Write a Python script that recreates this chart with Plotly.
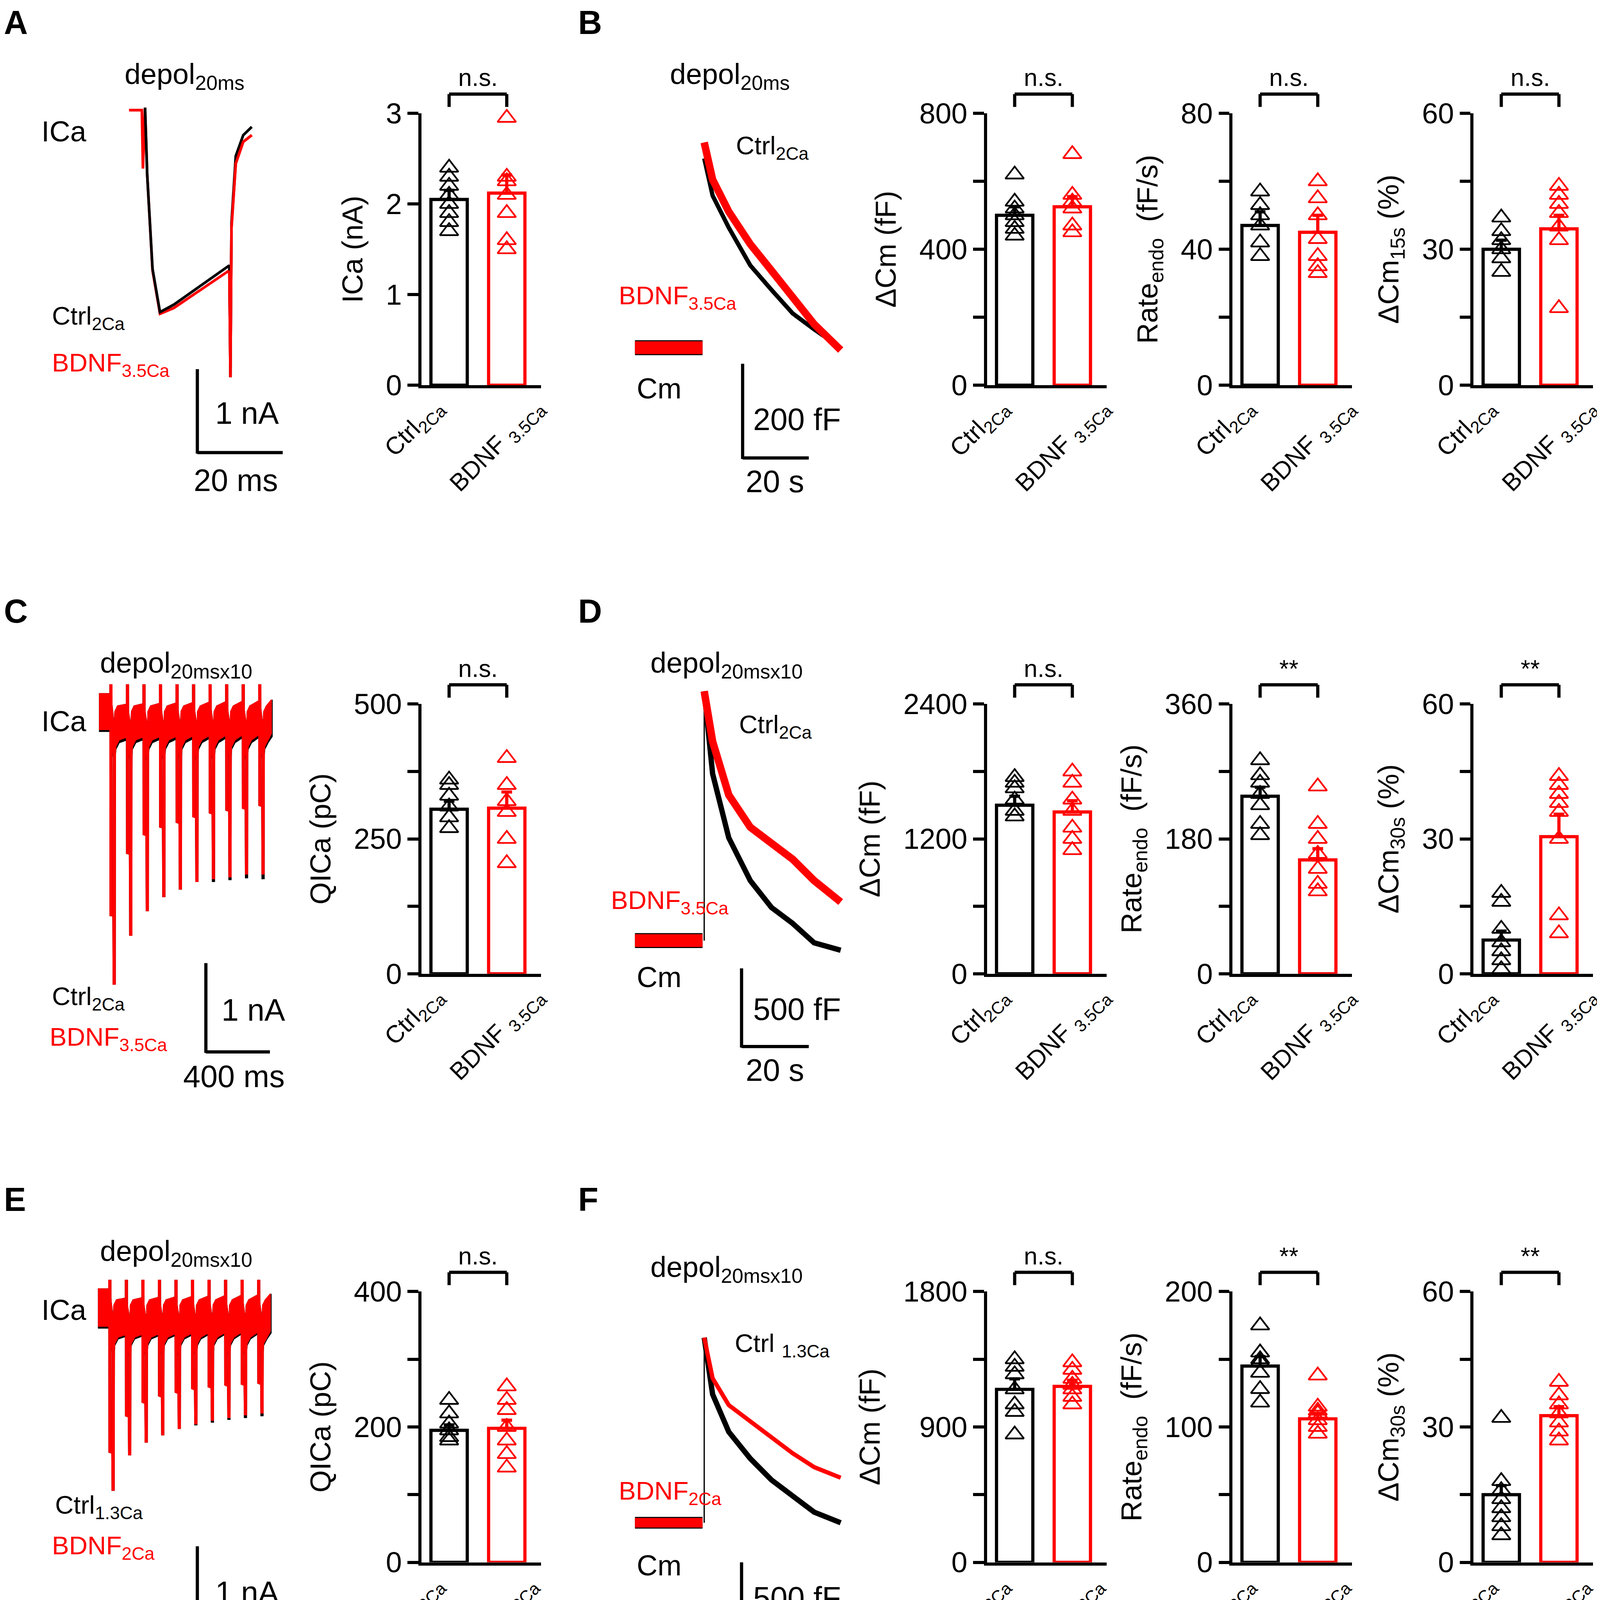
import plotly.graph_objects as go

W, H = 4125, 4282
DW, DH = 1510, 1563
S = W / DW
BLACK = '#000000'
RED = '#ff0000'
FONT = 'Liberation Sans, Arial, sans-serif'

def px(x): return x / DW
def py(y): return 1 - y / DH
def fs(d): return d * S

# ---------------- data: bar panels ----------------
cats_2 = ["Ctrl<sub>2Ca</sub>", "BDNF <sub>3.5Ca</sub>"]
cats_3 = ["Ctrl<sub>1.3Ca</sub>", "BDNF <sub>2Ca</sub>"]

# row 1 (A, B)
A_ica_ctrl = [2.4, 2.3, 2.2, 2.1, 2.0, 1.9, 1.8, 1.7]
A_ica_bdnf = [2.95, 2.3, 2.25, 2.1, 1.9, 1.6, 1.5]
A_ica_mean = [2.05, 2.12]; A_ica_sem = [0.1, 0.2]
B_dcm_ctrl = [620, 540, 520, 500, 480, 460, 440]
B_dcm_bdnf = [680, 560, 540, 520, 470, 450]
B_dcm_mean = [500, 525]; B_dcm_sem = [25, 30]
B_rate_ctrl = [57, 53, 50, 47, 42, 38]
B_rate_bdnf = [60, 55, 50, 43, 38, 35, 33]
B_rate_mean = [47, 45]; B_rate_sem = [4, 5]
B_pct_ctrl = [37, 34, 32, 30, 28, 25]
B_pct_bdnf = [44, 42, 40, 38, 35, 32, 17]
B_pct_mean = [30, 34.5]; B_pct_sem = [2, 3]

# row 2 (C, D)
C_q_ctrl = [360, 350, 330, 310, 290, 270]
C_q_bdnf = [400, 350, 320, 300, 250, 205]
C_q_mean = [305, 307]; C_q_sem = [15, 30]
D_dcm_ctrl = [1750, 1700, 1650, 1550, 1450, 1400]
D_dcm_bdnf = [1800, 1700, 1550, 1450, 1300, 1200, 1100]
D_dcm_mean = [1500, 1440]; D_dcm_sem = [80, 100]
D_rate_ctrl = [285, 265, 255, 240, 225, 200, 185]
D_rate_bdnf = [250, 200, 180, 160, 140, 120, 110]
D_rate_mean = [237, 152]; D_rate_sem = [12, 15]
D_pct_ctrl = [18, 16, 10, 7, 5, 3, 1]
D_pct_bdnf = [44, 42, 40, 38, 36, 30, 13, 9]
D_pct_mean = [7.5, 30.5]; D_pct_sem = [2, 5]

# row 3 (E, F)
E_q_ctrl = [240, 220, 205, 195, 185, 180]
E_q_bdnf = [260, 240, 225, 200, 180, 160, 140]
E_q_mean = [195, 198]; E_q_sem = [8, 12]
F_dcm_ctrl = [1350, 1300, 1250, 1150, 1050, 1000, 850]
F_dcm_bdnf = [1330, 1280, 1220, 1180, 1150, 1100, 1050]
F_dcm_mean = [1150, 1170]; F_dcm_sem = [70, 40]
F_rate_ctrl = [175, 155, 150, 148, 140, 128, 118]
F_rate_bdnf = [138, 115, 112, 110, 105, 100, 95]
F_rate_mean = [145, 106]; F_rate_sem = [7, 4]
F_pct_ctrl = [32, 18, 16, 14, 12, 10, 8, 6]
F_pct_bdnf = [40, 37, 35, 33, 31, 29, 27]
F_pct_mean = [15, 32.5]; F_pct_sem = [2, 2]

# ---------------- data: traces ----------------
A_t_red = [0, 3, 3.25, 3.75, 4.25, 5.5, 7.25, 10.5, 23.5, 23.75, 24, 25, 26.75, 28.75]
A_i_red = [0, 0, -0.7, 0.03, -0.77, -1.92, -2.44, -2.37, -1.92, -3.2, -1.41, -0.64, -0.38, -0.30]
A_t_blk = [3.75, 4.25, 5.5, 7.25, 10.5, 23.5, 23.75, 24, 25, 26.75, 28.75]
A_i_blk = [0.03, -0.77, -1.9, -2.42, -2.33, -1.86, -3.2, -1.35, -0.55, -0.3, -0.2]

pulse_t0 = [0, 100, 200, 300, 400, 500, 600, 700, 800, 900]
C_deep = [-2.25, -1.59, -1.39, -1.31, -1.26, -1.20, -1.16, -1.13, -1.11, -1.08]
C_tail_red = [-2.98, -2.46, -2.20, -2.05, -1.97, -1.89, -1.86, -1.84, -1.81, -1.81]
C_tail_blk = [-2.98, -2.46, -2.20, -2.05, -1.97, -1.89, -1.89, -1.87, -1.85, -1.86]
E_deep = [-1.70, -1.30, -1.15, -1.08, -1.04, -1.00, -0.98, -0.96, -0.95, -0.94]
E_tail_red = [-2.12, -1.73, -1.59, -1.51, -1.44, -1.39, -1.35, -1.32, -1.29, -1.27]
E_tail_blk = [-2.12, -1.73, -1.59, -1.51, -1.44, -1.40, -1.37, -1.34, -1.32, -1.30]

cm_t = [0, 2.5, 7.3, 13.7, 20, 26.3, 32.7, 40.6]
B_cm_blk = [402, 323, 255, 175, 123, 73, 39, 0]
B_cm_red = [436, 357, 289, 220, 164, 107, 50, -5]
D_cm_blk = [1596, 1068, 658, 384, 212, 110, -14, -62]
D_cm_red = [1596, 1274, 932, 726, 623, 521, 384, 247]
F_cm_blk = [1185, 822, 582, 411, 274, 171, 68, 0]
F_cm_red = [1185, 925, 753, 651, 548, 445, 356, 288]
cm_base_t = [-20.6, -0.5]

fig = go.Figure()
layout = dict(width=W, height=H, margin=dict(l=0, r=0, t=0, b=0, pad=0, autoexpand=False),
              autosize=False, paper_bgcolor='white', plot_bgcolor='rgba(0,0,0,0)',
              showlegend=False, font=dict(family=FONT, color=BLACK))
shapes = []
annots = []
axn = [0]

def new_axes(xdom, ydom, xrange, yrange):
    axn[0] += 1
    k = axn[0]
    xs = 'xaxis' if k == 1 else f'xaxis{k}'
    ys = 'yaxis' if k == 1 else f'yaxis{k}'
    layout[xs] = dict(domain=xdom, range=xrange, visible=False, automargin=False,
                      anchor=f'y{k if k>1 else ""}')
    layout[ys] = dict(domain=ydom, range=yrange, visible=False, automargin=False,
                      anchor=f'x{k if k>1 else ""}')
    return k, xs, ys

def ref(k):
    return ('x' if k == 1 else f'x{k}'), ('y' if k == 1 else f'y{k}')

def text(x, y, s, size=27, color=BLACK, xanchor='left', yanchor='middle', bold=False, angle=0):
    if bold:
        s = f'<b>{s}</b>'
    annots.append(dict(x=px(x), y=py(y), xref='paper', yref='paper', text=s, showarrow=False,
                       xanchor=xanchor, yanchor=yanchor, textangle=angle,
                       font=dict(size=fs(size), color=color, family=FONT)))

def line(x0, y0, x1, y1, w=3):
    shapes.append(dict(type='line', xref='paper', yref='paper', x0=px(x0), y0=py(y0),
                       x1=px(x1), y1=py(y1), line=dict(color=BLACK, width=w * S)))

ROW_TOP = [103, 655, 1204]
ROW_BOT = [357, 907, 1457]
LBL_OFF = [42, 42, 36]

def bar_panel(row, ax_x, ymax, dtick, minor, title, cats, mean, sem, pc, pb, sig):
    r0, r1 = -0.48, 1.593
    dom_w = 112
    k, xs, ys = new_axes([px(ax_x), px(ax_x + dom_w)], [py(ROW_BOT[row]), py(ROW_TOP[row])],
                         [r0, r1], [0, ymax])
    layout[xs].update(visible=True, showline=True, linecolor=BLACK, linewidth=3 * S,
                      ticks='', showticklabels=False, showgrid=False, zeroline=False)
    yd = dict(visible=True, showline=True, linecolor=BLACK, linewidth=3 * S, ticks='outside',
              ticklen=10 * S, tickwidth=3 * S, tickcolor=BLACK, tickmode='linear', tick0=0,
              dtick=dtick, tickfont=dict(size=fs(27), family=FONT), showgrid=False,
              zeroline=False, title=dict(text=title, font=dict(size=fs(27), family=FONT),
                                         standoff=14 * S))
    if minor:
        yd['minor'] = dict(dtick=minor, tick0=0, ticks='outside', ticklen=10 * S,
                           tickwidth=3 * S, tickcolor=BLACK, showgrid=False)
    layout[ys].update(yd)
    xr, yr = ref(k)
    for i, (col, pts) in enumerate([(BLACK, pc), (RED, pb)]):
        fig.add_trace(go.Bar(x=[i], y=[mean[i]], width=0.63, xaxis=xr, yaxis=yr,
                             marker=dict(color='white', line=dict(color=col, width=3 * S)),
                             error_y=dict(type='data', array=[sem[i]], arrayminus=[0],
                                          symmetric=False, color=col, thickness=3 * S,
                                          width=5 * S)))
        fig.add_trace(go.Scatter(x=[i] * len(pts), y=pts, mode='markers', xaxis=xr, yaxis=yr,
                                 cliponaxis=False,
                                 marker=dict(symbol='triangle-up-open', size=15 * S,
                                             color=col, line=dict(color=col, width=1.6 * S))))
    c0 = ax_x + (0 - r0) / (r1 - r0) * dom_w
    c1 = ax_x + (1 - r0) / (r1 - r0) * dom_w
    yb = ROW_TOP[row] - 18
    line(c0, yb + 12, c0, yb)
    line(c0, yb, c1, yb)
    line(c1, yb, c1, yb + 12)
    text((c0 + c1) / 2, yb - 2, sig, size=23, xanchor='center', yanchor='bottom')
    text(c0 + 2, ROW_BOT[row] + 6, cats[0], size=23, xanchor='right', yanchor='top', angle=-45)
    text(c1 + LBL_OFF[row], ROW_BOT[row] + 6, cats[1], size=23, xanchor='right', yanchor='top', angle=-45)

AX = [392, 922, 1152, 1378]
T_Q = 'QICa (pC)'
T_CM = 'ΔCm (fF)'
T_RATE = 'Rate<sub>endo</sub>  (fF/s)'
bar_panel(0, AX[0], 3, 1, None, 'ICa (nA)', cats_2, A_ica_mean, A_ica_sem, A_ica_ctrl, A_ica_bdnf, 'n.s.')
bar_panel(0, AX[1], 800, 400, 200, T_CM, cats_2, B_dcm_mean, B_dcm_sem, B_dcm_ctrl, B_dcm_bdnf, 'n.s.')
bar_panel(0, AX[2], 80, 40, 20, T_RATE, cats_2, B_rate_mean, B_rate_sem, B_rate_ctrl, B_rate_bdnf, 'n.s.')
bar_panel(0, AX[3], 60, 30, 15, 'ΔCm<sub>15s</sub> (%)', cats_2, B_pct_mean, B_pct_sem, B_pct_ctrl, B_pct_bdnf, 'n.s.')
bar_panel(1, AX[0], 500, 250, 125, T_Q, cats_2, C_q_mean, C_q_sem, C_q_ctrl, C_q_bdnf, 'n.s.')
bar_panel(1, AX[1], 2400, 1200, 600, T_CM, cats_2, D_dcm_mean, D_dcm_sem, D_dcm_ctrl, D_dcm_bdnf, 'n.s.')
bar_panel(1, AX[2], 360, 180, 90, T_RATE, cats_2, D_rate_mean, D_rate_sem, D_rate_ctrl, D_rate_bdnf, '**')
bar_panel(1, AX[3], 60, 30, 15, 'ΔCm<sub>30s</sub> (%)', cats_2, D_pct_mean, D_pct_sem, D_pct_ctrl, D_pct_bdnf, '**')
bar_panel(2, AX[0], 400, 200, 100, T_Q, cats_3, E_q_mean, E_q_sem, E_q_ctrl, E_q_bdnf, 'n.s.')
bar_panel(2, AX[1], 1800, 900, 450, T_CM, cats_3, F_dcm_mean, F_dcm_sem, F_dcm_ctrl, F_dcm_bdnf, 'n.s.')
bar_panel(2, AX[2], 200, 100, 50, T_RATE, cats_3, F_rate_mean, F_rate_sem, F_rate_ctrl, F_rate_bdnf, '**')
bar_panel(2, AX[3], 60, 30, 15, 'ΔCm<sub>30s</sub> (%)', cats_3, F_pct_mean, F_pct_sem, F_pct_ctrl, F_pct_bdnf, '**')

def trace_axes(xpx, ypx, x_of, y_of):
    (ox, sx), (oy, sy) = x_of, y_of
    xr = [(xpx[0] - ox) / sx, (xpx[1] - ox) / sx]
    yr = [(oy - ypx[1]) / sy, (oy - ypx[0]) / sy]
    k, xs, ys = new_axes([px(xpx[0]), px(xpx[1])], [py(ypx[1]), py(ypx[0])], xr, yr)
    return ref(k)

def add_line(xr, yr, xs, ys, col, w):
    fig.add_trace(go.Scatter(x=xs, y=ys, mode='lines', xaxis=xr, yaxis=yr, cliponaxis=False,
                             line=dict(color=col, width=w * S)))

xr, yr = trace_axes((100, 260), (90, 360), (118, 4.0), (100, 78))
add_line(xr, yr, A_t_red, A_i_red, RED, 2.5)
add_line(xr, yr, A_t_blk, A_i_blk, BLACK, 2.5)
add_line(xr, yr, A_t_red[8:], A_i_red[8:], RED, 2.5)

def train(xr, yr, deep, tail, col, top0, low0, top, low, spike, tend, w):
    ux = [-72, pulse_t0[0] - 0.5]; uy = [top0, top0]
    lx = [-72, pulse_t0[0] - 0.5]; ly = [low0, low0]
    for i, t0 in enumerate(pulse_t0):
        nxt = pulse_t0[i + 1] - 0.5 if i + 1 < len(pulse_t0) else tend
        ux += [t0 + 21, t0 + 24, t0 + 40, nxt]; uy += [top - 0.25, top - 0.08, top - 0.02, top + 0.005 * i]
        lx += [t0 + 21, t0 + 30, t0 + 50, nxt]; ly += [low - 0.3, low - 0.1, low - 0.03, low + 0.004 * i]
    fig.add_trace(go.Scatter(x=ux + lx[::-1], y=uy + ly[::-1], mode='lines', fill='toself',
                             fillcolor=col, xaxis=xr, yaxis=yr, cliponaxis=False,
                             line=dict(color=col, width=1 * S)))
    px_, py_ = [], []
    for i, t0 in enumerate(pulse_t0):
        px_ += [t0, t0 + 1, t0 + 18, t0 + 20, t0 + 21, t0 + 22, None]
        py_ += [spike, deep[i], deep[i] * 0.97, tail[i], low - 0.3, top - 0.25, None]
    fig.add_trace(go.Scatter(x=px_, y=py_, mode='lines', xaxis=xr, yaxis=yr, cliponaxis=False,
                             line=dict(color=col, width=w * S)))

xr, yr = trace_axes((85, 260), (630, 930), (101, 0.155), (655, 88))
train(xr, yr, C_deep, C_tail_blk, BLACK, 0.11, -0.29, 0.0, -0.38, 0.21, 975, 3)
train(xr, yr, C_deep, C_tail_red, RED, 0.11, -0.27, 0.0, -0.35, 0.21, 970, 3)
xr, yr = trace_axes((85, 260), (1185, 1480), (100, 0.155), (1210, 85))
train(xr, yr, E_deep, E_tail_blk, BLACK, 0.1, -0.33, 0.0, -0.42, 0.2, 975, 3)
train(xr, yr, E_deep, E_tail_red, RED, 0.1, -0.31, 0.0, -0.40, 0.2, 970, 3)

def cm_panel(ypx, oy, sy, blk, red, connect, wr, wb, wbase):
    xr, yr = trace_axes((585, 790), ypx, (657, 3.15), (oy, sy))
    add_line(xr, yr, cm_base_t, [0, 0], BLACK, wbase + 2)
    add_line(xr, yr, cm_base_t, [0, 0], RED, wbase)
    if connect:
        add_line(xr, yr, [0, 0.01], [0, blk[0]], BLACK, 1.2)
    add_line(xr, yr, cm_t, blk, BLACK, wb)
    add_line(xr, yr, cm_t, red, RED, wr)

cm_panel((110, 340), 322, 0.44, B_cm_blk, B_cm_red, False, 7, 4, 12)
cm_panel((630, 900), 876, 0.146, D_cm_blk, D_cm_red, True, 7, 5, 12)
cm_panel((1230, 1440), 1420, 0.146, F_cm_blk, F_cm_red, True, 4, 5, 9)

for (lx, ly, L) in [(0, 18, 'A'), (538, 18, 'B'), (0, 568, 'C'), (538, 568, 'D'), (0, 1118, 'E'), (538, 1118, 'F')]:
    text(lx, ly, L, size=31, bold=True)

text(113, 68, 'depol<sub>20ms</sub>')
text(35, 120, 'ICa')
text(45, 294, 'Ctrl<sub>2Ca</sub>', size=24)
text(45, 338, 'BDNF<sub>3.5Ca</sub>', size=24, color=RED)
line(182, 342, 182, 421); line(182, 420, 262, 420)
text(198, 383, '1 nA', size=29); text(178, 446, '20 ms', size=29)
text(624, 68, 'depol<sub>20ms</sub>')
text(686, 135, 'Ctrl<sub>2Ca</sub>', size=24)
text(576, 275, 'BDNF<sub>3.5Ca</sub>', size=24, color=RED)
text(593, 360, 'Cm')
line(693, 337, 693, 426); line(693, 425, 755, 425)
text(702, 389, '200 fF', size=29); text(695, 447, '20 s', size=29)
text(90, 618, 'depol<sub>20msx10</sub>')
text(35, 671, 'ICa')
text(45, 930, 'Ctrl<sub>2Ca</sub>', size=24)
text(43, 968, 'BDNF<sub>3.5Ca</sub>', size=24, color=RED)
line(190, 897, 190, 981); line(190, 980, 250, 980)
text(204, 941, '1 nA', size=29); text(168, 1003, '400 ms', size=29)
text(606, 618, 'depol<sub>20msx10</sub>')
text(689, 676, 'Ctrl<sub>2Ca</sub>', size=24)
text(569, 840, 'BDNF<sub>3.5Ca</sub>', size=24, color=RED)
text(593, 910, 'Cm')
line(692, 902, 692, 976); line(692, 975, 755, 975)
text(702, 940, '500 fF', size=29); text(695, 997, '20 s', size=29)
text(90, 1168, 'depol<sub>20msx10</sub>')
text(35, 1221, 'ICa')
text(48, 1405, 'Ctrl<sub>1.3Ca</sub>', size=24)
text(45, 1443, 'BDNF<sub>2Ca</sub>', size=24, color=RED)
line(182, 1442, 182, 1528); line(182, 1527, 250, 1527)
text(198, 1485, '1 nA', size=29); text(168, 1545, '400 ms', size=29)
text(606, 1183, 'depol<sub>20msx10</sub>')
text(685, 1254, 'Ctrl <sub>1.3Ca</sub>', size=24)
text(576, 1392, 'BDNF<sub>2Ca</sub>', size=24, color=RED)
text(593, 1460, 'Cm')
line(692, 1457, 692, 1531); line(692, 1530, 755, 1530)
text(702, 1490, '500 fF', size=29); text(695, 1545, '20 s', size=29)

layout['shapes'] = shapes
layout['annotations'] = annots
fig.update_layout(**layout)
fig.write_html('out.html', config=dict(responsive=False))
